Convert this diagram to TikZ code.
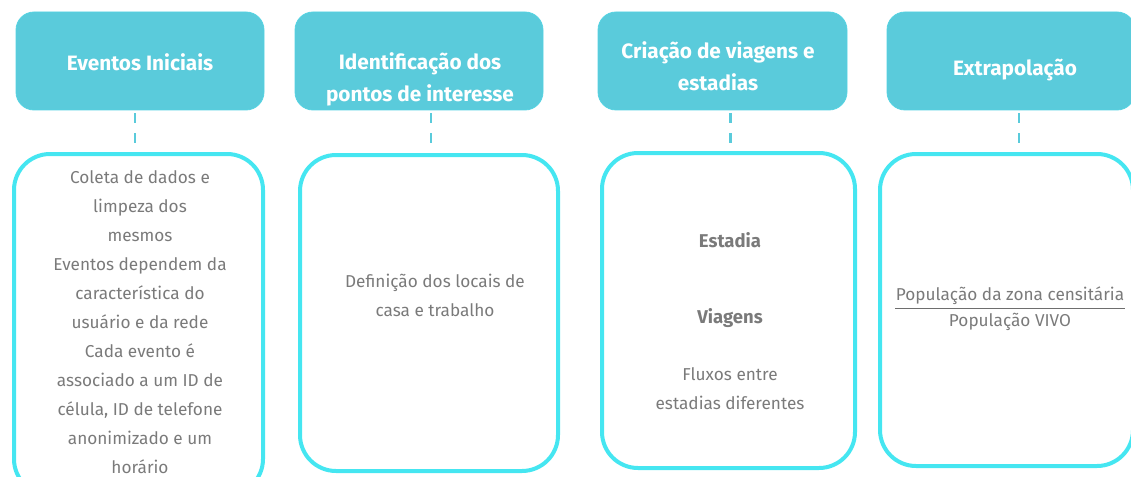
\documentclass[tikz,border=0pt]{standalone}
\usepackage{fontspec}
\setmainfont{Fira Sans}
\definecolor{hdr}{HTML}{5ACBDB}
\definecolor{bdr}{HTML}{45E6F1}
\definecolor{txt}{HTML}{7A7A7A}
\begin{document}
\begin{tikzpicture}[x=1pt,y=-1pt,
  header/.style={fill=hdr, draw=hdr!70!bdr, line width=0.8pt, rounded corners=18pt,
    minimum width=248pt, minimum height=98pt, inner sep=0pt},
  body/.style={draw=bdr, line width=4pt, rounded corners=36pt, inner sep=0pt},
  htext/.style={text=white, font=\bfseries\fontsize{20.8}{32}\selectfont, align=center, inner sep=0pt},
  btext/.style={text=txt, font=\fontsize{17.2}{29}\selectfont, align=center, inner sep=0pt},
  bbold/.style={text=txt, font=\bfseries\fontsize{18.5}{29}\selectfont, inner sep=0pt},
  link/.style={draw=hdr, line width=2.5pt, dash pattern=on 10pt off 10pt, dash phase=17pt}]
\useasboundingbox (0,0) rectangle (1131,476);
\clip (0,0) rectangle (1131,476);
% headers
\node[header] (h1) at (140,61) {};
\node[header] (h2) at (419,61) {};
\node[header, minimum width=249pt] (h3) at (722.5,61) {};
\node[header] (h4) at (1011,61) {};
% bodies
\node[body, minimum width=249pt, minimum height=341pt] (b1) at (138.5,324.5) {};
\node[body, minimum width=258pt, minimum height=316pt] (b2) at (429,313) {};
\node[body, minimum width=253pt, minimum height=315pt] (b3) at (728.5,310.5) {};
\node[body, minimum width=253pt, minimum height=312pt] (b4) at (1006.5,310) {};
% links
\draw[link] ([xshift=-5pt]h1.south) -- ([xshift=-5pt]h1.south |- b1.north);
\draw[link] ([xshift=12pt]h2.south) -- ([xshift=12pt]h2.south |- b2.north);
\draw[link] ([xshift=8pt]h3.south) -- ([xshift=8pt]h3.south |- b3.north);
\draw[link] ([xshift=8pt]h4.south) -- ([xshift=8pt]h4.south |- b4.north);
% header texts
\node[htext] (t1) at (140,62) {Eventos Iniciais};
\node[htext] (t2) at (420,79) {Identificação dos\\pontos de interesse};
\node[htext] (t3) at (718,66) {Criação de viagens e\\estadias};
\node[htext] (t4) at (1015,70) {Extrapolação};
% body texts
\node[btext] (c1) at (140,322) {Coleta de dados e\\limpeza dos\\mesmos\\Eventos dependem da\\característica do\\usuário e da rede\\Cada evento é\\associado a um ID de\\célula, ID de telefone\\anonimizado e um\\horário};
\node[btext] (c2) at (435,295) {Definição dos locais de\\casa e trabalho};
\node[bbold] (c3a) at (730,240) {Estadia};
\node[bbold] (c3b) at (730,318) {Viagens};
\node[btext] (c3c) at (730,389) {Fluxos entre\\estadias diferentes};
\node[btext, anchor=south] (num) at (1010,305) {População da zona censitária};
\node[btext, anchor=north] (den) at (1010,313) {População VIVO};
\draw[txt!90!black, line width=1.8pt] (895,308.5) -- (1125,308.5);
\end{tikzpicture}
\end{document}
